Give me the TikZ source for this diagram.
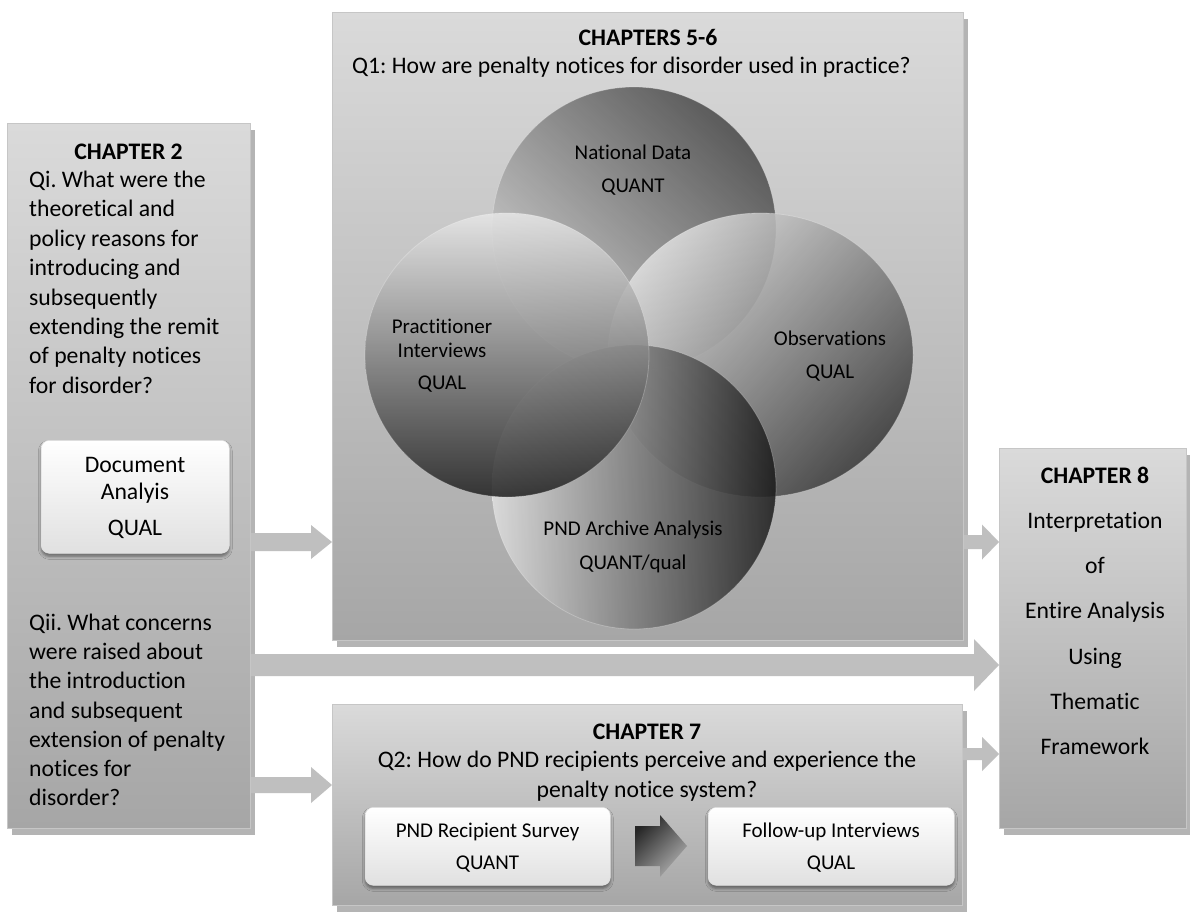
\documentclass[tikz,border=0pt]{standalone}
\usepackage{fontspec}
\setmainfont{Carlito}[Ligatures=NoCommon]
\usetikzlibrary{shadows,shadows.blur,calc,shapes.geometric}
\definecolor{arrowgray}{HTML}{BFBFBF}
\definecolor{boxtop}{HTML}{DADADA}
\definecolor{boxbot}{HTML}{A6A6A6}
\definecolor{boxedge}{HTML}{C6C6C6}
\definecolor{shadowgray}{HTML}{B4B4B4}
\newcommand\blockarrow[6][fill=arrowgray]{%
  \path[#1] let \p1=(#2), \p2=(#3) in
   (\x1,\y1+#4pt) -- (\x2-#6pt,\y1+#4pt) -- (\x2-#6pt,\y1+#5pt) -- (\x2,\y1)
   -- (\x2-#6pt,\y1-#5pt) -- (\x2-#6pt,\y1-#4pt) -- (\x1,\y1-#4pt) -- cycle;}
\tikzset{
  chapbox/.style={draw=boxedge, line width=1.2pt, top color=boxtop, bottom color=boxbot,
    inner sep=0pt, anchor=north west,
    drop shadow={shadow xshift=4pt, shadow yshift=-6pt, fill=shadowgray, opacity=1}},
  whitebox/.style={draw=white!88!black, line width=0.6pt, rounded corners=8pt,
    top color=white, bottom color=white!88!black, inner sep=0pt, anchor=north west,
    blur shadow={shadow xshift=0pt, shadow yshift=-3pt, shadow blur radius=3pt, shadow opacity=45}},
  venn/.style={inner sep=0pt, fill opacity=0.85, draw=white, draw opacity=0.25, line width=0.8pt},
  txt/.style={font=\fontsize{23.7}{28}\selectfont, inner sep=0pt, anchor=base},
  txtl/.style={txt, anchor=base west},
  ttl/.style={txt, font=\fontsize{23.7}{28}\selectfont\bfseries},
  vtxt/.style={font=\fontsize{21}{25}\selectfont, inner sep=0pt, anchor=base},
}
\frenchspacing
\begin{document}
\begin{tikzpicture}[x=1pt,y=-1pt]
\useasboundingbox (0,0) rectangle (1190,912);
\fill[white] (0,0) rectangle (1190,912);

% chapter boxes
\node[chapbox, minimum width=243, minimum height=705] (c2) at (7,123) {};
\node[chapbox, minimum width=631, minimum height=628] (c56) at (332,12) {};
\node[chapbox, minimum width=630, minimum height=201] (c7) at (332,704) {};
\node[chapbox, minimum width=187, minimum height=380] (c8) at (999,448) {};

% block arrows between boxes
\coordinate (aAs) at (c2.east |- 0,542);  \coordinate (aAe) at (c56.west |- 0,542);
\coordinate (aBs) at (c56.east |- 0,542); \coordinate (aBe) at (c8.west |- 0,542);
\coordinate (aCs) at (c2.east |- 0,665);  \coordinate (aCe) at (c8.west |- 0,665);
\coordinate (aDs) at (c2.east |- 0,785);  \coordinate (aDe) at (c7.west |- 0,785);
\coordinate (aEs) at (c7.east |- 0,754);  \coordinate (aEe) at (c8.west |- 0,754);
\blockarrow{aAs}{aAe}{9}{17}{21}
\blockarrow{aBs}{aBe}{7}{17.5}{17}
\blockarrow{aCs}{aCe}{11}{26}{25}
\blockarrow{aDs}{aDe}{8}{18}{21}
\blockarrow{aEs}{aEe}{6}{17}{17}

% Venn circles
\node[venn, circle, minimum size=284, top color=black!72, bottom color=black!19, shading angle=-45] (nat) at (634,229) {};
\node[venn, ellipse, minimum width=305, minimum height=284, top color=black!12, bottom color=black!78, shading angle=45] (obs) at (760.5,355) {};
\node[venn, circle, minimum size=284, left color=black!12, right color=black!90] (pnd) at (634,487) {};
\node[venn, circle, minimum size=284, top color=black!9, bottom color=black!88] (pra) at (507,355) {};

% white inner boxes
\node[whitebox, minimum width=188, minimum height=113] (doc) at (41,440) {};
\node[whitebox, minimum width=245, minimum height=78] (surv) at (365,807) {};
\node[whitebox, minimum width=246, minimum height=78] (foll) at (708,807) {};
\coordinate (dS) at (635,846); \coordinate (dE) at (687,846);
\blockarrow[top color=black!85, bottom color=black!32, shading angle=45]{dS}{dE}{20}{31}{27}

% Chapter 2 texts
\node[ttl] (t2) at (128.5,159.5) {CHAPTER 2};
\foreach \t [count=\i from 0] in {Qi. What were the, theoretical and, policy reasons for, introducing and, subsequently, extending the remit, of penalty notices, for disorder?}
  \node[txtl] (qi\i) at (29,187.5+29.4*\i) {\t};
\foreach \t [count=\i from 0] in {Qii. What concerns, were raised about, the introduction, and subsequent, extension of penalty, notices for, disorder?}
  \node[txtl] (qii\i) at (29,630.5+29.2*\i) {\t};
\node[txt] (doc1) at (135,472.5) {Document};
\node[txt] (doc2) at (135,499) {Analyis};
\node[txt] (doc3) at (135,535.5) {QUAL};

% Chapters 5-6 texts
\node[ttl] (t56) at (648,46) {CHAPTERS 5-6};
\node[txtl] (q1) at (352,74) {Q1: How are penalty notices for disorder used in practice?};
\node[vtxt] (nat1) at (633,159.7) {National Data};
\node[vtxt] (nat2) at (633,192.7) {QUANT};
\node[vtxt] (pra1) at (442,333.7) {Practitioner};
\node[vtxt] (pra2) at (442,357.7) {Interviews};
\node[vtxt] (pra3) at (442,389.7) {QUAL};
\node[vtxt] (obs1) at (830,345.7) {Observations};
\node[vtxt] (obs2) at (830,378.7) {QUAL};
\node[vtxt] (pnd1) at (633,535.7) {PND Archive Analysis};
\node[vtxt] (pnd2) at (633,569.7) {QUANT/qual};

% Chapter 7 texts
\node[ttl] (t7) at (647,739.5) {CHAPTER 7};
\node[txt] (q2a) at (647,767.5) {Q2: How do PND recipients perceive and experience the};
\node[txt] (q2b) at (647,797.5) {penalty notice system?};
\node[vtxt] (sv1) at (487.5,837.5) {PND Recipient Survey};
\node[vtxt] (sv2) at (487.5,869.5) {QUANT};
\node[vtxt] (fl1) at (831,837.5) {Follow-up Interviews};
\node[vtxt] (fl2) at (831,869.5) {QUAL};

% Chapter 8 texts
\node[ttl] (t8) at (1095,483.5) {CHAPTER 8};
\foreach \t [count=\i from 0] in {Interpretation, of, Entire Analysis, Using, Thematic, Framework}
  \node[txt] (c8l\i) at (1095,528.5+45.2*\i) {\t};
\end{tikzpicture}
\end{document}
